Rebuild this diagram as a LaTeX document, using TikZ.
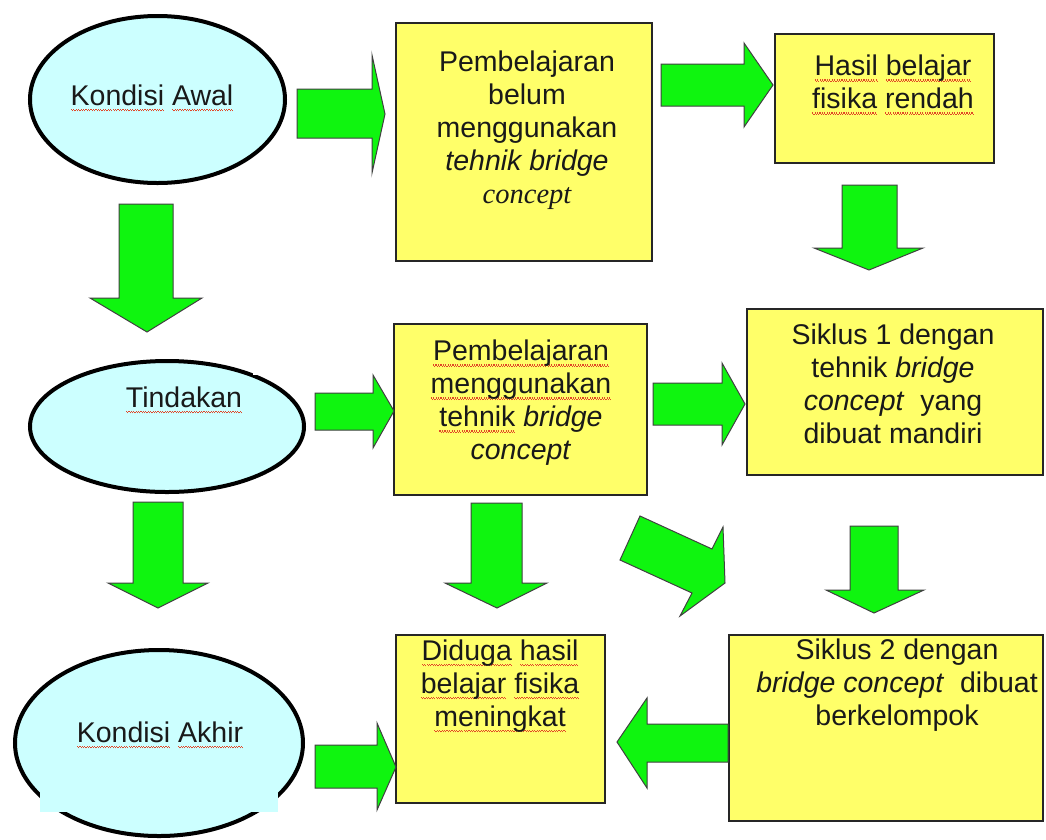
\documentclass[tikz,border=0pt]{standalone}
\usepackage{fontspec}
\setmainfont{Liberation Sans}
\newfontfamily\timesfam{Liberation Serif}
\usetikzlibrary{shapes.geometric}
\definecolor{arrowgreen}{RGB}{15,245,15}
\definecolor{boxyellow}{RGB}{255,255,105}
\definecolor{ellcyan}{RGB}{204,255,255}
\definecolor{spellred}{RGB}{225,70,40}
\newcommand\wavebit{\hbox{{\color{spellred}\vrule width 1.2pt height -3.6pt depth 5pt\vrule width 1.2pt height -4.8pt depth 6.2pt}}}
\newcommand\spellsq[1]{\leavevmode\setbox0\hbox{#1}\rlap{\hbox to\wd0{\xleaders\wavebit\hfil}}\box0\relax}
\begin{document}
\begin{tikzpicture}[x=1pt,y=-1pt,
  box/.style={draw=black!85, line width=1.8pt, fill=boxyellow, inner sep=0pt, rectangle},
  ell/.style={draw=black, line width=4pt, fill=ellcyan, ellipse, inner sep=0pt},
  barrow/.style={fill=arrowgreen, draw=black!75, line width=1pt, line join=miter},
  txt/.style={align=center, inner sep=0pt, font=\fontsize{28.5}{33}\selectfont, text=black!90}]
\useasboundingbox (0,0) rectangle (1046,839);
\fill[white] (0,0) rectangle (1046,839);

% ellipses
\node[ell, minimum width=255pt, minimum height=167pt] (e1) at (157.5,99.5) {};
\node[ell, minimum width=274pt, minimum height=131pt] (e2) at (167,426.5) {};
\fill[white] (253,345) rectangle (276,375);
\node[ell, minimum width=288pt, minimum height=186pt] (e3) at (159,743) {};
\fill[ellcyan] (40,760) rectangle (278,812);

% boxes
\node[box, minimum width=256pt, minimum height=238pt] (b1) at (524,142) {};
\node[box, minimum width=219pt, minimum height=129pt] (b2) at (884.5,98.5) {};
\node[box, minimum width=253pt, minimum height=171pt] (b3) at (520.5,409.5) {};
\node[box, minimum width=296pt, minimum height=166pt] (b4) at (895,392) {};
\node[box, minimum width=209pt, minimum height=168pt] (b5) at (500.5,719) {};
\node[box, minimum width=314pt, minimum height=186pt] (b6) at (886,728) {};

% block arrows
\draw[barrow] (297,89)--(372,89)--(372,55)--(385,114)--(372,173)--(372,138)--(297,138)--cycle;
\draw[barrow] (661,64)--(744,64)--(744,43)--(773,85)--(744,127)--(744,106)--(661,106)--cycle;
\draw[barrow] (842,185)--(842,248)--(814,248)--(869,270)--(923,248)--(897,248)--(897,185)--cycle;
\draw[barrow] (119,204)--(119,298)--(90,298)--(147,332)--(202,298)--(173,298)--(173,204)--cycle;
\draw[barrow] (315,393)--(373,393)--(373,375)--(394,411)--(373,448)--(373,430)--(315,430)--cycle;
\draw[barrow] (653,383)--(722,383)--(722,363)--(745,404)--(722,445)--(722,425)--(653,425)--cycle;
\draw[barrow] (133,502)--(133,583)--(108,583)--(158,608)--(208,583)--(183,583)--(183,502)--cycle;
\draw[barrow] (471,503)--(471,583)--(445,583)--(497,608)--(547,583)--(522,583)--(522,503)--cycle;
\draw[barrow] (640,516)--(712,549)--(723,527)--(725,583)--(680,616)--(692,593)--(620,560)--cycle;
\draw[barrow] (850,526)--(850,590)--(826,590)--(874,613)--(924,590)--(898,590)--(898,526)--cycle;
\draw[barrow] (315,745)--(377,745)--(377,723)--(396,767)--(377,810)--(377,788)--(315,788)--cycle;
\draw[barrow] (728,724)--(647,724)--(647,698)--(617,742)--(647,788)--(647,762)--(728,762)--cycle;

% texts
\node[txt] (t1) at (152,98) {\spellsq{Kondisi} \spellsq{Awal}};
\node[txt] (t2) at (184,400) {\spellsq{Tindakan}};
\node[txt] (t3) at (160,735) {\spellsq{Kondisi} \spellsq{Akhir}};
\node[txt] (tb1) at (527,130) {Pembelajaran\\ belum\\ menggunakan\\ \textit{tehnik bridge}\\ {\timesfam\itshape concept}};
\node[txt] (tb2) at (893,85) {\spellsq{Hasil} \spellsq{belajar}\\ \spellsq{fisika} \spellsq{rendah}};
\node[txt] (tb3) at (521,403) {\spellsq{Pembelajaran}\\ \spellsq{menggunakan}\\ \spellsq{tehnik} \textit{bridge}\\ \textit{concept}};
\node[txt] (tb4) at (893,383.5) {Siklus 1 dengan\\ tehnik \textit{bridge}\\ \textit{concept}\ \ yang\\ dibuat mandiri};
\node[txt] (tb5) at (500,686) {\spellsq{Diduga} \spellsq{hasil}\\ \spellsq{belajar} \spellsq{fisika}\\ \spellsq{meningkat}};
\node[txt] (tb6) at (897,685) {Siklus 2 dengan\\ \textit{bridge concept}\ \ dibuat\\ berkelompok};
\end{tikzpicture}
\end{document}
